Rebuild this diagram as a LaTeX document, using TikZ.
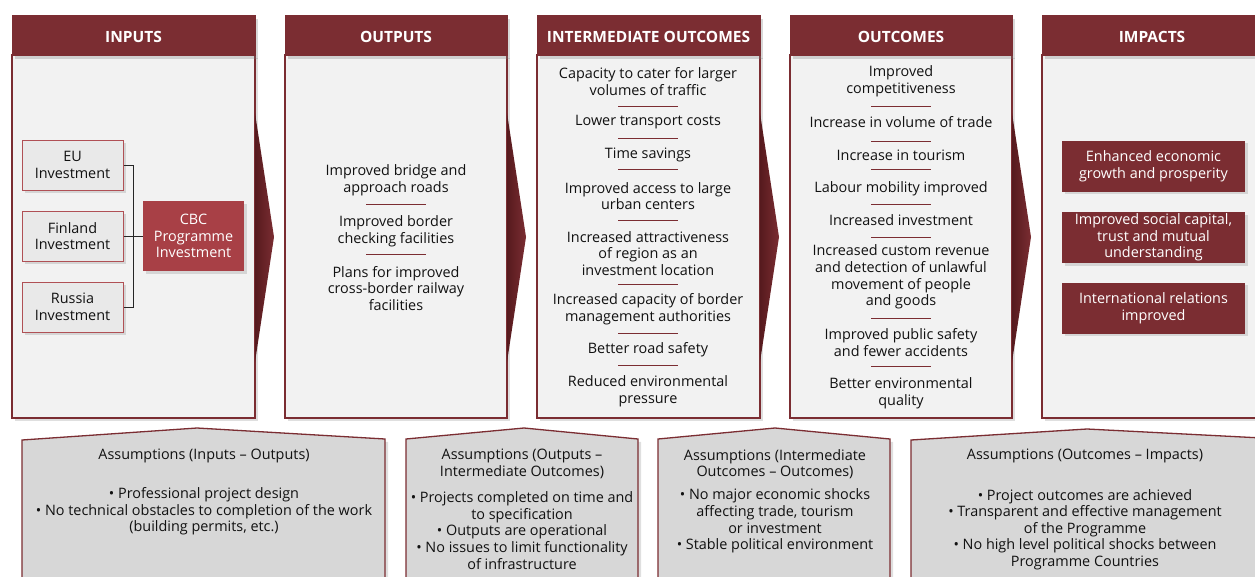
\documentclass[tikz,border=0pt]{standalone}
\usepackage{fontspec}
\setmainfont{Open Sans}
\usetikzlibrary{shadows}
\definecolor{hdr}{HTML}{7B2D32}
\definecolor{bord}{HTML}{B05055}
\definecolor{bodyc}{HTML}{F2F2F2}
\definecolor{cbc}{HTML}{A84046}
\definecolor{arrd}{HTML}{561A1E}
\definecolor{asm}{HTML}{D7D7D7}
\definecolor{ibox}{HTML}{E9E9E9}
\definecolor{txt}{HTML}{111111}
\begin{document}
\begin{tikzpicture}[x=1pt,y=-1pt,
  every node/.style={font=\fontsize{14.4}{16.6}\selectfont, align=center, inner sep=0pt, text=txt},
  lbl/.style={yshift=-1.5pt},
  colbody/.style={fill=bodyc, draw=hdr, line width=1.3pt, drop shadow={opacity=0.25, shadow xshift=3pt, shadow yshift=-3pt}},
  colhead/.style={fill=hdr, draw=hdr, text=white, font=\fontsize{15.5}{18}\selectfont\bfseries, text depth=0pt, text height=14pt, drop shadow={opacity=0.3, shadow xshift=3pt, shadow yshift=-4pt}},
  chev/.style={left color=arrd, right color=hdr},
  sep/.style={draw=hdr, line width=0.9pt},
  inbox/.style={fill=ibox, draw=bord, line width=1pt, minimum width=101pt, minimum height=50pt, drop shadow={opacity=0.25}},
  cbcbox/.style={fill=cbc, text=white, minimum width=101pt, minimum height=70pt, drop shadow={opacity=0.25}},
  impbox/.style={fill=hdr, text=white, minimum width=183pt, minimum height=51pt, drop shadow={opacity=0.25}},
  asmbox/.style={fill=asm, draw=hdr, line width=1.3pt, drop shadow={opacity=0.25, shadow xshift=3pt, shadow yshift=-3pt}},
  conn/.style={draw=black!85, line width=0.9pt}]
\useasboundingbox (0,0) rectangle (1255,576);
\fill[white] (0,0) rectangle (1255,576);

% ---------- column bodies ----------
\path[colbody] (12,55) rectangle (255,418);
\path[colbody] (285,55) rectangle (507,418);
\path[colbody] (537,55) rectangle (760,418);
\path[colbody] (790,55) rectangle (1012,418);
\path[colbody] (1042,55) rectangle (1262,418);

% ---------- chevrons ----------
\shade[chev] (255,113) -- (274,237) -- (255,362) -- cycle;
\shade[chev] (507,113) -- (526,237) -- (507,362) -- cycle;
\shade[chev] (760,113) -- (779,237) -- (760,362) -- cycle;
\shade[chev] (1012,113) -- (1031,237) -- (1012,362) -- cycle;

% ---------- headers ----------
\node[colhead, minimum width=243pt, minimum height=40pt] (hin) at (133.5,35) {INPUTS};
\node[colhead, minimum width=222pt, minimum height=40pt] (hout) at (396,35) {OUTPUTS};
\node[colhead, minimum width=223pt, minimum height=40pt] (hint) at (648.5,35) {INTERMEDIATE OUTCOMES};
\node[colhead, minimum width=222pt, minimum height=40pt] (hoc) at (901,35) {OUTCOMES};
\node[colhead, minimum width=220pt, minimum height=40pt] (himp) at (1152,35) {IMPACTS};

% ---------- inputs ----------
\node[inbox] (eu) at (72.5,165) {EU\\Investment};
\node[inbox] (fi) at (72.5,236) {Finland\\Investment};
\node[inbox] (ru) at (72.5,307) {Russia\\Investment};
\node[cbcbox] (cbc) at (193.5,236) {CBC\\Programme\\Investment};
\coordinate (jt) at (133,165);
\coordinate (jb) at (133,307);
\draw[conn] (eu.east) -- (jt) -- (jb) -- (ru.east);
\draw[conn] (fi.east) -- (cbc.west);

% ---------- outputs ----------
\node[lbl] (o1) at (396,178.5) {Improved bridge and\\approach roads};
\node[lbl] (o2) at (396,229.5) {Improved border\\checking facilities};
\node[lbl] (o3) at (396,287) {Plans for improved\\cross-border railway\\facilities};
\draw[sep] (366,204) -- (426,204);
\draw[sep] (366,254) -- (426,254);

% ---------- intermediate outcomes ----------
\node[lbl] (i1) at (648,80) {Capacity to cater for larger\\volumes of traffic};
\node[lbl] (i2) at (648,121) {Lower transport costs};
\node[lbl] (i3) at (648,153) {Time savings};
\node[lbl] (i4) at (648,194.5) {Improved access to large\\urban centers};
\node[lbl] (i5) at (648,252) {Increased attractiveness\\of region as an\\investment location};
\node[lbl] (i6) at (648,308) {Increased capacity of border\\management authorities};
\node[lbl] (i7) at (648,348) {Better road safety};
\node[lbl] (i8) at (648,389.5) {Reduced environmental\\pressure};
\foreach \y in {106,138,169,220,284,333,365}
  \draw[sep] (618,\y) -- (678,\y);

% ---------- outcomes ----------
\node[lbl] (c1) at (901,79.5) {Improved\\competitiveness};
\node[lbl] (c2) at (901,121) {Increase in volume of trade};
\node[lbl] (c3) at (901,154) {Increase in tourism};
\node[lbl] (c4) at (901,187) {Labour mobility improved};
\node[lbl] (c5) at (901,219) {Increased investment};
\node[lbl] (c6) at (901,275.5) {Increased custom revenue\\and detection of unlawful\\movement of people\\and goods};
\node[lbl] (c7) at (901,341) {Improved public safety\\and fewer accidents};
\node[lbl] (c8) at (901,391.5) {Better environmental\\quality};
\foreach \y in {106,141,169,204,237,318,366}
  \draw[sep] (871,\y) -- (931,\y);

% ---------- impacts ----------
\node[impbox] (m1) at (1153.5,166) {Enhanced economic\\growth and prosperity};
\node[impbox] (m2) at (1153.5,237.5) {Improved social capital,\\trust and mutual\\understanding};
\node[impbox] (m3) at (1153.5,308) {International relations\\improved};

% ---------- assumptions ----------
\path[asmbox] (22,440) -- (197,428) -- (385,439) -- (385,590) -- (22,590) -- cycle;
\path[asmbox] (406,439) -- (524,428) -- (638,439) -- (638,590) -- (406,590) -- cycle;
\path[asmbox] (658,439) -- (775,428) -- (890,439) -- (890,590) -- (658,590) -- cycle;
\path[asmbox] (911,440) -- (1087,429) -- (1262,438) -- (1262,590) -- (911,590) -- cycle;

\node[lbl] (a1t) at (204,454) {Assumptions (Inputs – Outputs)};
\node[lbl] (a1b) at (204,510) {• Professional project design\\• No technical obstacles to completion of the work\\(building permits, etc.)};

\node[lbl] (a2t) at (522,462.5) {Assumptions (Outputs –\\Intermediate Outcomes)};
\node[lbl] (a2b) at (522,529) {• Projects completed on time and\\to specification\\• Outputs are operational\\• No issues to limit functionality\\of infrastructure};

\node[lbl] (a3t) at (775,462.5) {Assumptions (Intermediate\\Outcomes – Outcomes)};
\node[lbl] (a3b) at (775,519.5) {• No major economic shocks\\affecting trade, tourism\\or investment\\• Stable political environment};

\node[lbl] (a4t) at (1085,454) {Assumptions (Outcomes – Impacts)};
\node[lbl] (a4b) at (1085,528) {• Project outcomes are achieved\\• Transparent and effective management\\of the Programme\\• No high level political shocks between\\Programme Countries};
\end{tikzpicture}
\end{document}
